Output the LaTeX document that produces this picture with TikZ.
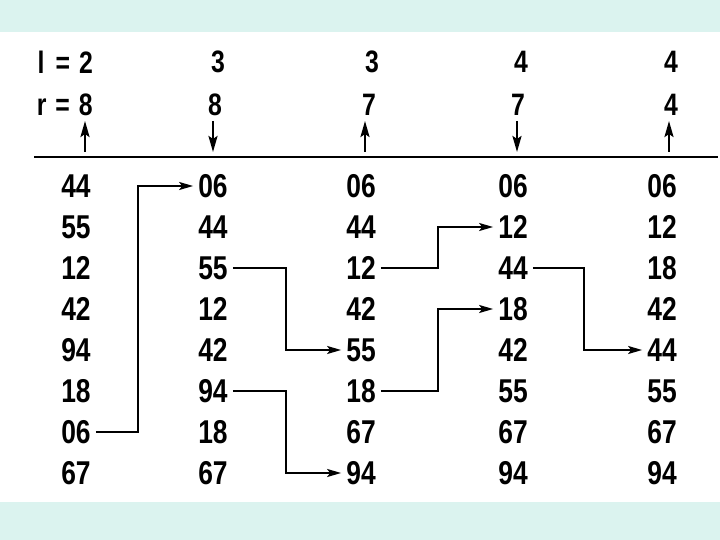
\documentclass[tikz,border=0pt]{standalone}
\usepackage{fontspec}
\newfontfamily\numfont[FakeStretch=0.8]{Liberation Sans}
\usetikzlibrary{arrows.meta}
\definecolor{band}{RGB}{219,243,239}
\begin{document}
\begin{tikzpicture}[x=1pt,y=-1pt,
  num/.style={font=\numfont\bfseries\fontsize{33}{33}\selectfont, inner xsep=5pt, inner ysep=0pt, minimum width=30pt, anchor=center},
  hdr/.style={font=\numfont\bfseries\fontsize{31}{31}\selectfont, inner sep=0pt},
  conn/.style={line width=1.8pt, -{Stealth[length=14pt,width=8pt,inset=3pt]}},
  ptr/.style={line width=2.4pt, -{Stealth[length=16pt,width=9pt,inset=3pt]}}]
\useasboundingbox (0,0) rectangle (720,540);
\fill[band] (0,0) rectangle (720,32);
\fill[band] (0,502) rectangle (720,540);
% header
\node[hdr, anchor=east] (l1) at (93,62) {l\hspace{11pt}=\hspace{9pt}2};
\node[hdr] (l2) at (218,62) {3};
\node[hdr] (l3) at (372,62) {3};
\node[hdr] (l4) at (521,62) {4};
\node[hdr] (l5) at (671,62) {4};
\node[hdr, anchor=east] (r1) at (93,105) {r\hspace{9pt}=\hspace{9pt}8};
\node[hdr] (r2) at (215,105) {8};
\node[hdr] (r3) at (369,105) {7};
\node[hdr] (r4) at (518,105) {7};
\node[hdr] (r5) at (671,105) {4};
% pointer arrows
\coordinate (p1a) at (85,152); \coordinate (p1b) at (85,121);
\coordinate (p2a) at (213,121); \coordinate (p2b) at (213,152);
\coordinate (p3a) at (365,152); \coordinate (p3b) at (365,121);
\coordinate (p4a) at (517,121); \coordinate (p4b) at (517,152);
\coordinate (p5a) at (669,152); \coordinate (p5b) at (669,121);
\draw[ptr] (p1a) -- (p1b);
\draw[ptr] (p2a) -- (p2b);
\draw[ptr] (p3a) -- (p3b);
\draw[ptr] (p4a) -- (p4b);
\draw[ptr] (p5a) -- (p5b);
% rule
\coordinate (la) at (34,157); \coordinate (lb) at (718,157);
\draw[line width=2.8pt] (la) -- (lb);
% columns
\foreach \c/\x/\vals in {a/76/{44,55,12,42,94,18,06,67},
                         b/213/{06,44,55,12,42,94,18,67},
                         c/361/{06,44,12,42,55,18,67,94},
                         d/513/{06,12,44,18,42,55,67,94},
                         e/662/{06,12,18,42,44,55,67,94}}{
  \foreach \v [count=\i] in \vals {
    \node[num] (\c\i) at (\x,{186+41*(\i-1)}) {\v};
  }
}
% vertical lines of connectors
\coordinate (v1) at (138,0);
\coordinate (v2) at (286,0);
\coordinate (v3) at (438,0);
\coordinate (v4) at (584,0);
\draw[conn] (a7.east) -- (a7.east -| v1) |- (b1.west);
\draw[conn] (b3.east) -- (b3.east -| v2) |- (c5.west);
\draw[conn] (b6.east) -- (b6.east -| v2) |- (c8.west);
\draw[conn] (c3.east) -- (c3.east -| v3) |- (d2.west);
\draw[conn] (c6.east) -- (c6.east -| v3) |- (d4.west);
\draw[conn] (d3.east) -- (d3.east -| v4) |- (e5.west);
\end{tikzpicture}
\end{document}
